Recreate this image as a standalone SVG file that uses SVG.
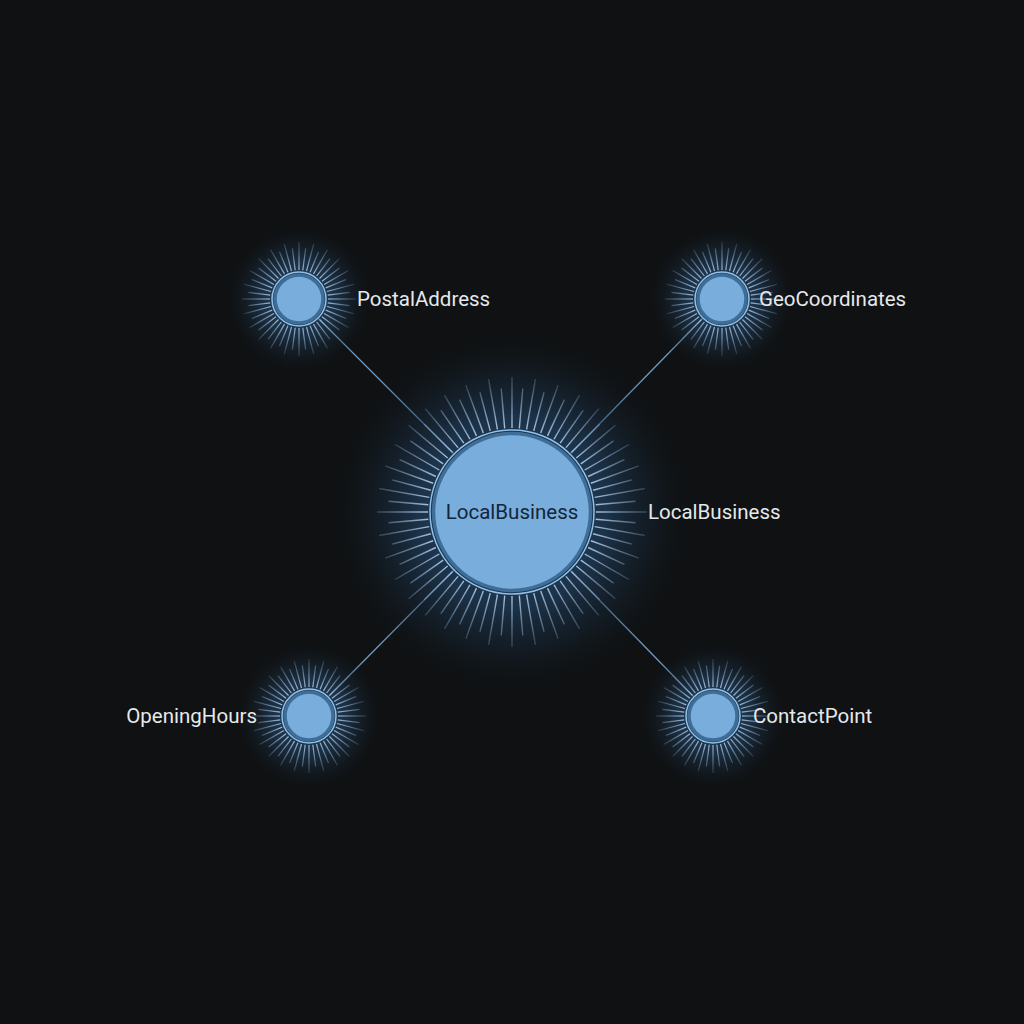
<svg xmlns="http://www.w3.org/2000/svg" width="1024" height="1024" viewBox="0 0 1024 1024">
<defs>
<style>
.lbl{font-family:Roboto,"Liberation Sans",sans-serif;font-size:20.5px;fill:#e6e8ea}
.in{font-family:Roboto,"Liberation Sans",sans-serif;font-size:20.5px;fill:#13263a}
.edge{stroke:#6e9bc4;stroke-width:1.3;fill:none}
.fill{fill:#79addb;stroke:#3e6d98;stroke-width:3.5}
.halo{fill:none;stroke:#8fc1e9;stroke-width:1.5}
.rb{stroke:url(#rgB);stroke-width:1.4}
.rs{stroke:url(#rgS);stroke-width:1.2}
</style>
<radialGradient id="glowBig" cx="0.5" cy="0.5" r="0.5">
<stop offset="0" stop-color="#2e5275" stop-opacity="1"/>
<stop offset="0.5" stop-color="#22405f" stop-opacity="0.7"/>
<stop offset="0.75" stop-color="#18293b" stop-opacity="0.35"/>
<stop offset="1" stop-color="#0f1112" stop-opacity="0"/>
</radialGradient>
<radialGradient id="glowSmall" cx="0.5" cy="0.5" r="0.5">
<stop offset="0" stop-color="#30557a" stop-opacity="1"/>
<stop offset="0.5" stop-color="#22405f" stop-opacity="0.6"/>
<stop offset="1" stop-color="#0f1112" stop-opacity="0"/>
</radialGradient>
<linearGradient id="rgB" gradientUnits="userSpaceOnUse" x1="0" y1="-82" x2="0" y2="-135">
<stop offset="0" stop-color="#b8d6f2" stop-opacity="0.9"/>
<stop offset="1" stop-color="#8fb3d6" stop-opacity="0.25"/>
</linearGradient>
<linearGradient id="rgS" gradientUnits="userSpaceOnUse" x1="0" y1="-28" x2="0" y2="-57">
<stop offset="0" stop-color="#b8d6f2" stop-opacity="0.85"/>
<stop offset="1" stop-color="#8fb3d6" stop-opacity="0.2"/>
</linearGradient>
<line id="bl" class="rb" x1="0" y1="-84" x2="0" y2="-135"/>
<line id="bs" class="rb" x1="0" y1="-84" x2="0" y2="-124"/>
<line id="sl" class="rs" x1="0" y1="-29" x2="0" y2="-57"/>
<line id="ss" class="rs" x1="0" y1="-29" x2="0" y2="-51"/>
<g id="bigRays">
<use href="#bl" transform="rotate(0)"/><use href="#bs" transform="rotate(5)"/><use href="#bl" transform="rotate(10)"/><use href="#bs" transform="rotate(15)"/><use href="#bl" transform="rotate(20)"/><use href="#bs" transform="rotate(25)"/><use href="#bl" transform="rotate(30)"/><use href="#bs" transform="rotate(35)"/><use href="#bl" transform="rotate(40)"/><use href="#bs" transform="rotate(45)"/><use href="#bl" transform="rotate(50)"/><use href="#bs" transform="rotate(55)"/>
<use href="#bl" transform="rotate(60)"/><use href="#bs" transform="rotate(65)"/><use href="#bl" transform="rotate(70)"/><use href="#bs" transform="rotate(75)"/><use href="#bl" transform="rotate(80)"/><use href="#bs" transform="rotate(85)"/><use href="#bl" transform="rotate(90)"/><use href="#bs" transform="rotate(95)"/><use href="#bl" transform="rotate(100)"/><use href="#bs" transform="rotate(105)"/><use href="#bl" transform="rotate(110)"/><use href="#bs" transform="rotate(115)"/>
<use href="#bl" transform="rotate(120)"/><use href="#bs" transform="rotate(125)"/><use href="#bl" transform="rotate(130)"/><use href="#bs" transform="rotate(135)"/><use href="#bl" transform="rotate(140)"/><use href="#bs" transform="rotate(145)"/><use href="#bl" transform="rotate(150)"/><use href="#bs" transform="rotate(155)"/><use href="#bl" transform="rotate(160)"/><use href="#bs" transform="rotate(165)"/><use href="#bl" transform="rotate(170)"/><use href="#bs" transform="rotate(175)"/>
<use href="#bl" transform="rotate(180)"/><use href="#bs" transform="rotate(185)"/><use href="#bl" transform="rotate(190)"/><use href="#bs" transform="rotate(195)"/><use href="#bl" transform="rotate(200)"/><use href="#bs" transform="rotate(205)"/><use href="#bl" transform="rotate(210)"/><use href="#bs" transform="rotate(215)"/><use href="#bl" transform="rotate(220)"/><use href="#bs" transform="rotate(225)"/><use href="#bl" transform="rotate(230)"/><use href="#bs" transform="rotate(235)"/>
<use href="#bl" transform="rotate(240)"/><use href="#bs" transform="rotate(245)"/><use href="#bl" transform="rotate(250)"/><use href="#bs" transform="rotate(255)"/><use href="#bl" transform="rotate(260)"/><use href="#bs" transform="rotate(265)"/><use href="#bl" transform="rotate(270)"/><use href="#bs" transform="rotate(275)"/><use href="#bl" transform="rotate(280)"/><use href="#bs" transform="rotate(285)"/><use href="#bl" transform="rotate(290)"/><use href="#bs" transform="rotate(295)"/>
<use href="#bl" transform="rotate(300)"/><use href="#bs" transform="rotate(305)"/><use href="#bl" transform="rotate(310)"/><use href="#bs" transform="rotate(315)"/><use href="#bl" transform="rotate(320)"/><use href="#bs" transform="rotate(325)"/><use href="#bl" transform="rotate(330)"/><use href="#bs" transform="rotate(335)"/><use href="#bl" transform="rotate(340)"/><use href="#bs" transform="rotate(345)"/><use href="#bl" transform="rotate(350)"/><use href="#bs" transform="rotate(355)"/>
</g>
<g id="small">
<circle r="78" fill="url(#glowSmall)"/>
<use href="#sl" transform="rotate(0)"/><use href="#ss" transform="rotate(7.5)"/><use href="#sl" transform="rotate(15)"/><use href="#ss" transform="rotate(22.5)"/><use href="#sl" transform="rotate(30)"/><use href="#ss" transform="rotate(37.5)"/><use href="#sl" transform="rotate(45)"/><use href="#ss" transform="rotate(52.5)"/><use href="#sl" transform="rotate(60)"/><use href="#ss" transform="rotate(67.5)"/><use href="#sl" transform="rotate(75)"/><use href="#ss" transform="rotate(82.5)"/>
<use href="#sl" transform="rotate(90)"/><use href="#ss" transform="rotate(97.5)"/><use href="#sl" transform="rotate(105)"/><use href="#ss" transform="rotate(112.5)"/><use href="#sl" transform="rotate(120)"/><use href="#ss" transform="rotate(127.5)"/><use href="#sl" transform="rotate(135)"/><use href="#ss" transform="rotate(142.5)"/><use href="#sl" transform="rotate(150)"/><use href="#ss" transform="rotate(157.5)"/><use href="#sl" transform="rotate(165)"/><use href="#ss" transform="rotate(172.5)"/>
<use href="#sl" transform="rotate(180)"/><use href="#ss" transform="rotate(187.5)"/><use href="#sl" transform="rotate(195)"/><use href="#ss" transform="rotate(202.5)"/><use href="#sl" transform="rotate(210)"/><use href="#ss" transform="rotate(217.5)"/><use href="#sl" transform="rotate(225)"/><use href="#ss" transform="rotate(232.5)"/><use href="#sl" transform="rotate(240)"/><use href="#ss" transform="rotate(247.5)"/><use href="#sl" transform="rotate(255)"/><use href="#ss" transform="rotate(262.5)"/>
<use href="#sl" transform="rotate(270)"/><use href="#ss" transform="rotate(277.5)"/><use href="#sl" transform="rotate(285)"/><use href="#ss" transform="rotate(292.5)"/><use href="#sl" transform="rotate(300)"/><use href="#ss" transform="rotate(307.5)"/><use href="#sl" transform="rotate(315)"/><use href="#ss" transform="rotate(322.5)"/><use href="#sl" transform="rotate(330)"/><use href="#ss" transform="rotate(337.5)"/><use href="#sl" transform="rotate(345)"/><use href="#ss" transform="rotate(352.5)"/>
<circle r="27" class="halo"/>
<circle r="24" class="fill"/>
</g>
</defs>
<rect width="1024" height="1024" fill="#0f1112"/>
<g id="connectors">
<line class="edge" x1="318" y1="318" x2="455" y2="455"/>
<line class="edge" x1="703" y1="318" x2="569" y2="455"/>
<line class="edge" x1="328" y1="697" x2="455" y2="569"/>
<line class="edge" x1="694" y1="697" x2="569" y2="569"/>
</g>
<g id="LocalBusiness">
<circle cx="512" cy="512" r="190" fill="url(#glowBig)"/>
<use href="#bigRays" transform="translate(512 512)"/>
<circle cx="512" cy="512" r="82" class="halo"/>
<circle cx="512" cy="512" r="78.5" class="fill"/>
<text class="in" x="512" y="519" text-anchor="middle">LocalBusiness</text>
<text class="lbl" x="648" y="519">LocalBusiness</text>
</g>
<g id="PostalAddress">
<use href="#small" transform="translate(299 299)"/>
<text class="lbl" x="357" y="306">PostalAddress</text>
</g>
<g id="GeoCoordinates">
<use href="#small" transform="translate(722 299)"/>
<text class="lbl" x="759" y="306">GeoCoordinates</text>
</g>
<g id="OpeningHours">
<use href="#small" transform="translate(309 716)"/>
<text class="lbl" x="257" y="723" text-anchor="end">OpeningHours</text>
</g>
<g id="ContactPoint">
<use href="#small" transform="translate(713 716)"/>
<text class="lbl" x="753" y="723">ContactPoint</text>
</g>
</svg>
